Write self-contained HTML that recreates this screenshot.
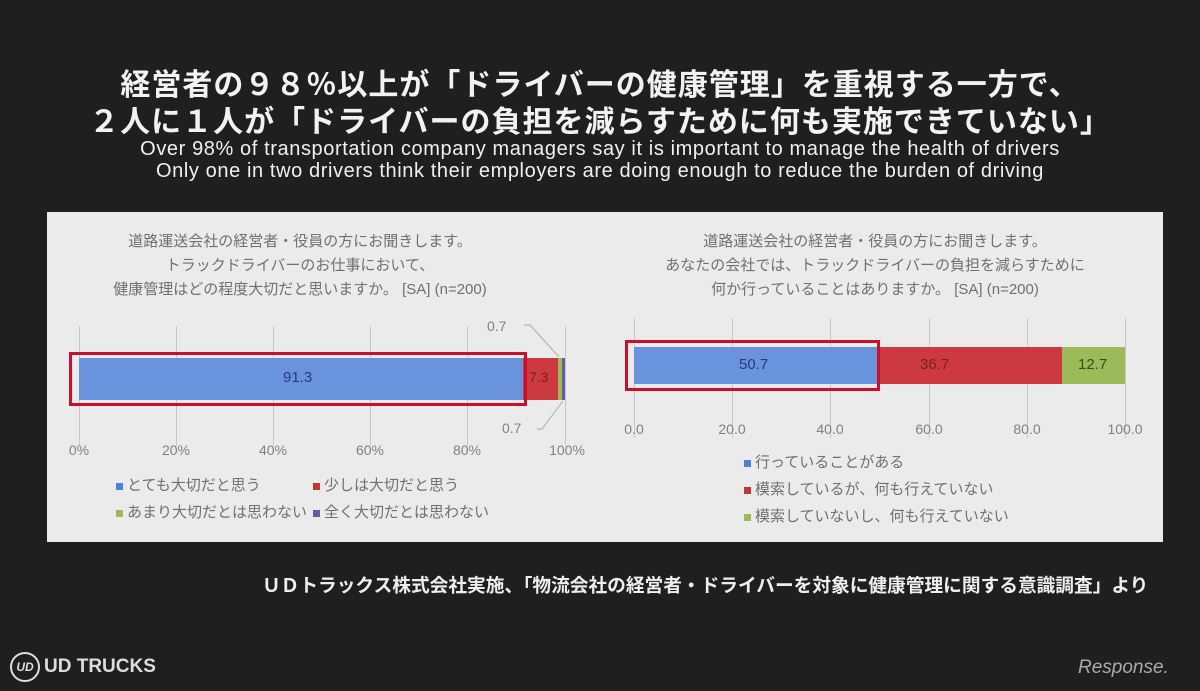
<!DOCTYPE html>
<html><head><meta charset="utf-8"><style>
body{margin:0;width:1200px;height:691px;background:#1f1f1e;overflow:hidden;font-family:"Liberation Sans","Noto Sans CJK JP",sans-serif;position:relative}
.a{position:absolute;white-space:nowrap}
.t{color:#f2f2f2;font-size:30px;font-weight:bold;left:0;width:1200px;text-align:center;letter-spacing:1px}
.e{color:#f0f0f0;font-size:20px;left:0;width:1200px;text-align:center;letter-spacing:0.6px}
.panel{position:absolute;left:47px;top:212px;width:1116px;height:330px;background:#ebebeb}
.q{color:#707070;font-size:15px;text-align:center;line-height:24px}
.g{position:absolute;width:1px;background:#c8c8c8}
.tk{color:#808080;font-size:14px;transform:translateX(-50%)}
.lg{color:#707070;font-size:15px}
.sq{display:inline-block;width:7px;height:7px;margin-right:4px;vertical-align:middle}
</style></head><body>
<div class="a t" style="top:60px">経営者の９８％以上が「ドライバーの健康管理」を重視する一方で、</div>
<div class="a t" style="top:97px">２人に１人が「ドライバーの負担を減らすために何も実施できていない」</div>
<div class="a e" style="top:138px">Over 98% of transportation company managers say it is important to manage the health of drivers</div>
<div class="a e" style="top:160px">Only one in two drivers think their employers are doing enough to reduce the burden of driving</div>
<div class="panel"></div>
<!-- left -->
<div class="a q" style="left:100px;width:400px;top:230px">道路運送会社の経営者・役員の方にお聞きします。<br>トラックドライバーのお仕事において、<br>健康管理はどの程度大切だと思いますか。 [SA] (n=200)</div>
<div class="g" style="left:79px;top:326px;height:120px"></div>
<div class="g" style="left:176px;top:326px;height:120px"></div>
<div class="g" style="left:273px;top:326px;height:120px"></div>
<div class="g" style="left:370px;top:326px;height:120px"></div>
<div class="g" style="left:467px;top:326px;height:120px"></div>
<div class="g" style="left:565px;top:326px;height:120px"></div>
<div class="a" style="left:79px;top:358px;width:444px;height:42px;background:#6a93de"></div>
<div class="a" style="left:523px;top:358px;width:35px;height:42px;background:#cc3a40"></div>
<div class="a" style="left:558px;top:358px;width:4px;height:42px;background:#9bbb59"></div>
<div class="a" style="left:562px;top:358px;width:3px;height:42px;background:#6a5aa0"></div>
<div class="a" style="left:69px;top:352px;width:452px;height:48px;border:3px solid #c8102e"></div>
<div class="a" style="left:283px;top:369px;color:#2a3a7a;font-size:15px">91.3</div>
<div class="a" style="left:529px;top:369px;color:#7a1f22;font-size:14px">7.3</div>
<div class="a" style="left:487px;top:318px;color:#808080;font-size:14px">0.7</div>
<div class="a" style="left:502px;top:420px;color:#808080;font-size:14px">0.7</div>
<svg class="a" style="left:0;top:0" width="1200" height="691"><polyline points="524,325 530,325 559,357" fill="none" stroke="#aaa"/><polyline points="537,429 542,429 563,401" fill="none" stroke="#aaa"/></svg>
<div class="a tk" style="left:79px;top:442px">0%</div>
<div class="a tk" style="left:176px;top:442px">20%</div>
<div class="a tk" style="left:273px;top:442px">40%</div>
<div class="a tk" style="left:370px;top:442px">60%</div>
<div class="a tk" style="left:467px;top:442px">80%</div>
<div class="a tk" style="left:567px;top:442px">100%</div>
<div class="a lg" style="left:116px;top:474px"><span class="sq" style="background:#4f7fd8"></span>とても大切だと思う</div>
<div class="a lg" style="left:313px;top:474px"><span class="sq" style="background:#c0343a"></span>少しは大切だと思う</div>
<div class="a lg" style="left:116px;top:501px"><span class="sq" style="background:#9bbb59"></span>あまり大切だとは思わない</div>
<div class="a lg" style="left:313px;top:501px"><span class="sq" style="background:#6a5aa0"></span>全く大切だとは思わない</div>
<!-- right -->
<div class="a q" style="left:655px;width:440px;top:230px">道路運送会社の経営者・役員の方にお聞きします。<br>あなたの会社では、トラックドライバーの負担を減らすために<br>何か行っていることはありますか。 [SA] (n=200)</div>
<div class="g" style="left:634px;top:318px;height:120px"></div>
<div class="g" style="left:732px;top:318px;height:120px"></div>
<div class="g" style="left:830px;top:318px;height:120px"></div>
<div class="g" style="left:929px;top:318px;height:120px"></div>
<div class="g" style="left:1027px;top:318px;height:120px"></div>
<div class="g" style="left:1125px;top:318px;height:120px"></div>
<div class="a" style="left:634px;top:347px;width:243px;height:37px;background:#6a93de"></div>
<div class="a" style="left:877px;top:347px;width:185px;height:37px;background:#cc3a40"></div>
<div class="a" style="left:1062px;top:347px;width:63px;height:37px;background:#9bbb59"></div>
<div class="a" style="left:625px;top:340px;width:249px;height:45px;border:3px solid #c8102e"></div>
<div class="a" style="left:739px;top:356px;color:#2a3a7a;font-size:15px">50.7</div>
<div class="a" style="left:920px;top:356px;color:#7a1f22;font-size:15px">36.7</div>
<div class="a" style="left:1078px;top:356px;color:#3a4a1a;font-size:15px">12.7</div>
<div class="a tk" style="left:634px;top:421px">0.0</div>
<div class="a tk" style="left:732px;top:421px">20.0</div>
<div class="a tk" style="left:830px;top:421px">40.0</div>
<div class="a tk" style="left:929px;top:421px">60.0</div>
<div class="a tk" style="left:1027px;top:421px">80.0</div>
<div class="a tk" style="left:1125px;top:421px">100.0</div>
<div class="a lg" style="left:744px;top:451px"><span class="sq" style="background:#4f7fd8"></span>行っていることがある</div>
<div class="a lg" style="left:744px;top:478px"><span class="sq" style="background:#c0343a"></span>模索しているが、何も行えていない</div>
<div class="a lg" style="left:744px;top:505px"><span class="sq" style="background:#9bbb59"></span>模索していないし、何も行えていない</div>
<!-- footer -->
<div class="a" style="left:262px;top:571px;color:#eee;font-size:18.7px;font-weight:bold">ＵＤトラックス株式会社実施、「物流会社の経営者・ドライバーを対象に健康管理に関する意識調査」より</div>
<div class="a" style="left:10px;top:652px;width:26px;height:26px;border:2px solid #ddd;border-radius:50%;color:#ddd;font-size:12px;font-weight:bold;font-style:italic;text-align:center;line-height:26px">UD</div>
<div class="a" style="left:44px;top:656px;color:#ddd;font-size:19px;font-weight:bold">UD TRUCKS</div>
<div class="a" style="left:1078px;top:657px;color:#aaa;font-size:19px;font-style:italic">Response.</div>
</body></html>
